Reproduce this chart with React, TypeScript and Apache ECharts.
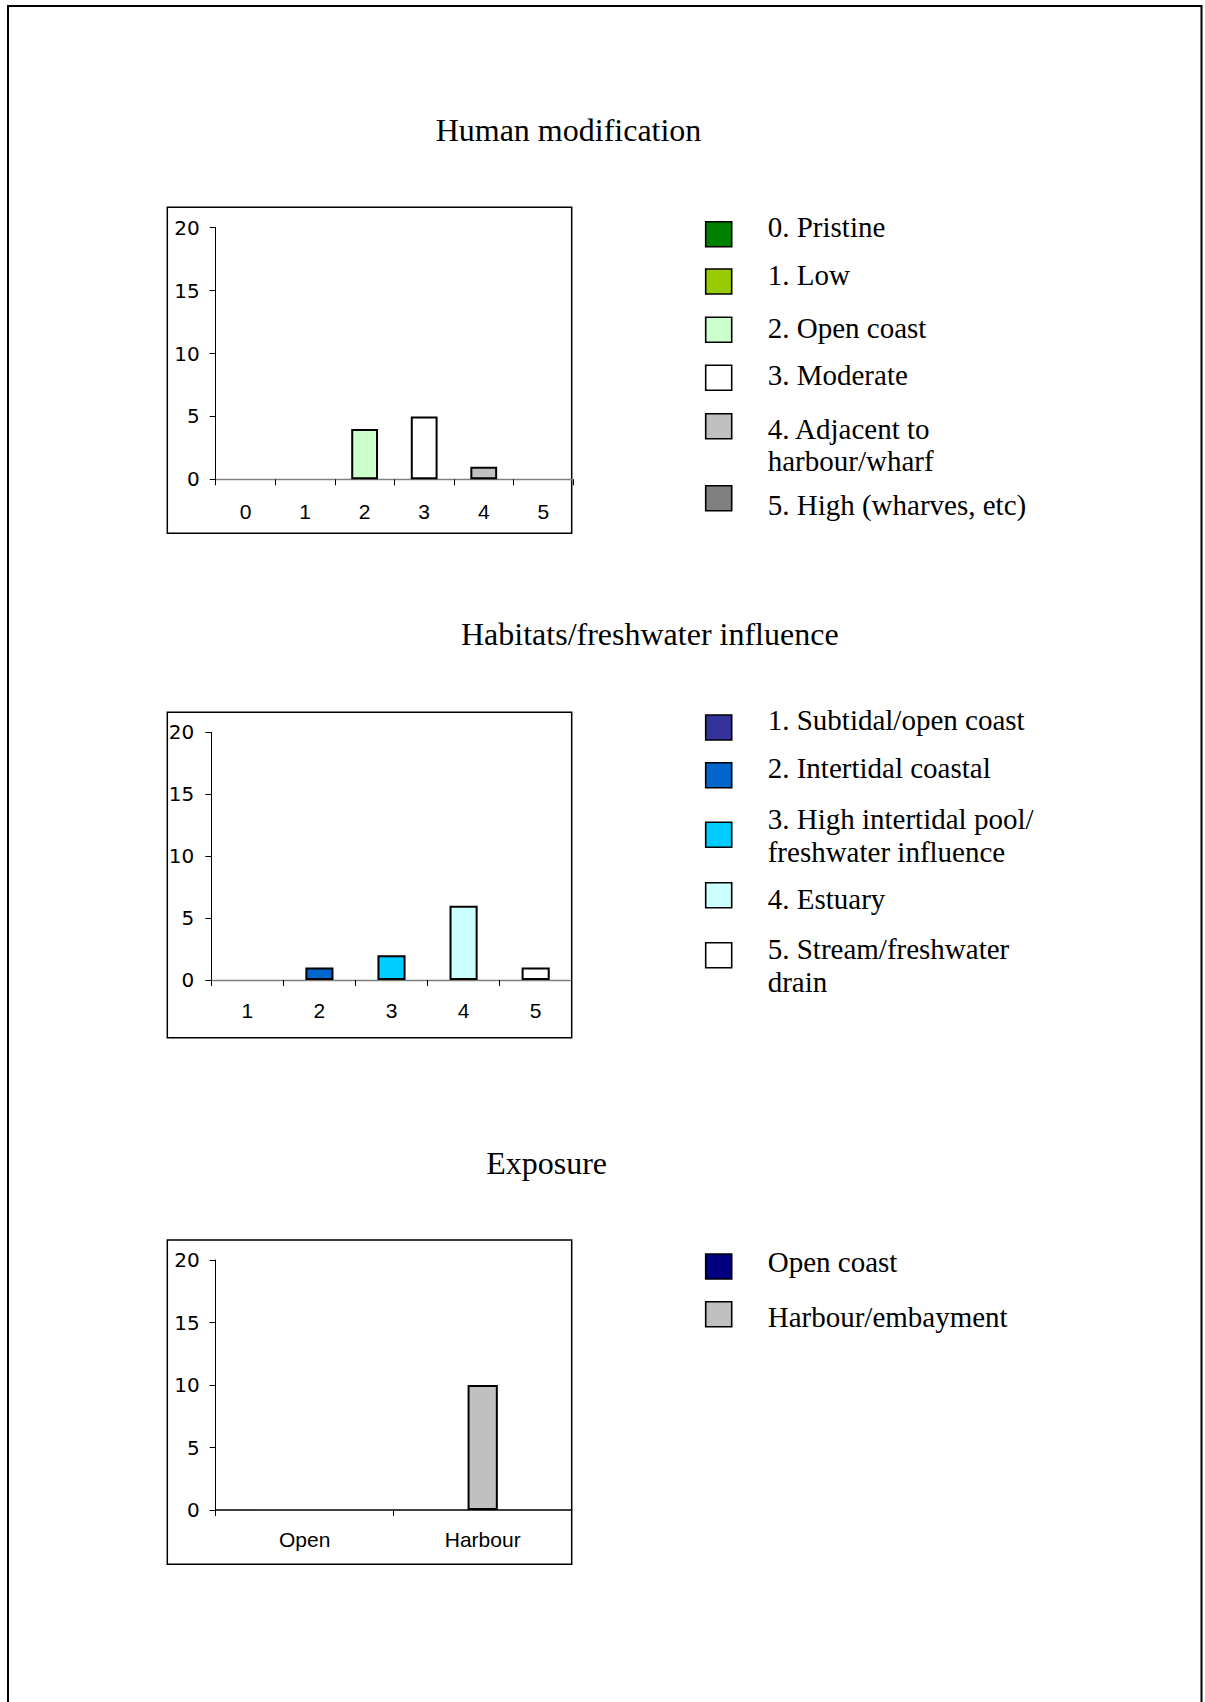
import React, { useEffect, useRef } from "react";
import * as echarts from "echarts";

// ---------- data ----------
const humanTitle = "Human modification";
const humanCategories = ["0", "1", "2", "3", "4", "5"];
const humanValues = [0, 0, 4, 5, 1, 0];
const humanLegend = [
  "0. Pristine",
  "1. Low",
  "2. Open coast",
  "3. Moderate",
  "4. Adjacent to\nharbour/wharf",
  "5. High (wharves, etc)",
];
const humanColors = ["#008000", "#99CC00", "#CCFFCC", "#FFFFFF", "#C0C0C0", "#808080"];

const habitatTitle = "Habitats/freshwater influence";
const habitatCategories = ["1", "2", "3", "4", "5"];
const habitatValues = [0, 1, 2, 6, 1];
const habitatLegend = [
  "1. Subtidal/open coast",
  "2. Intertidal coastal",
  "3. High intertidal pool/\nfreshwater influence",
  "4. Estuary",
  "5. Stream/freshwater\ndrain",
];
const habitatColors = ["#333399", "#0066CC", "#00CCFF", "#CCFFFF", "#FFFFFF"];

const exposureTitle = "Exposure";
const exposureCategories = ["Open", "Harbour"];
const exposureValues = [0, 10];
const exposureLegend = ["Open coast", "Harbour/embayment"];
const exposureColors = ["#000080", "#C0C0C0"];

const yMin = 0;
const yMax = 20;
const yInterval = 5;

// ---------- layout ----------
const SERIF = "'Liberation Serif', 'Times New Roman', serif";
const SANS = "'Liberation Sans', Arial, sans-serif";
const YSANS = "'DejaVu Sans', sans-serif";
const TITLE_SIZE = 32;
const LEGEND_SIZE = 29;
const CENTRAL = 0.3375; // central baseline offset of Liberation Serif (em)

const panels = [
  {
    title: humanTitle,
    categories: humanCategories,
    values: humanValues,
    legend: humanLegend,
    colors: humanColors,
    titleX: 568.5,
    titleBaseline: 140.4,
    box: { x: 167.3, y: 207.3, w: 404.4, h: 326 },
    grid: { left: 215.7, top: 227.7, width: 357.4, height: 251.6 },
    barWidth: "45%",
    xLabelMargin: 22,
    yLabelMargin: 16,
    xAxisColor: "#808080",
    xAxisWidth: 1.3,
    swatchTops: [221.7, 269, 317.3, 365.3, 413.7, 485.7],
    baselines: [236.7, 284.3, 337.3, 385, 438.3, 515],
    lineGap: 32.4,
  },
  {
    title: habitatTitle,
    categories: habitatCategories,
    values: habitatValues,
    legend: habitatLegend,
    colors: habitatColors,
    titleX: 649.8,
    titleBaseline: 644.6,
    box: { x: 167.3, y: 712.3, w: 404.4, h: 325.4 },
    grid: { left: 211.3, top: 732.3, width: 360.4, height: 247.7 },
    barWidth: "39%",
    xLabelMargin: 20,
    yLabelMargin: 17,
    xAxisColor: "#808080",
    xAxisWidth: 1.3,
    swatchTops: [715, 762.7, 822.3, 882.7, 942.7],
    baselines: [729.3, 777.3, 828.3, 908.3, 958.3],
    lineGap: 33,
  },
  {
    title: exposureTitle,
    categories: exposureCategories,
    values: exposureValues,
    legend: exposureLegend,
    colors: exposureColors,
    titleX: 546.6,
    titleBaseline: 1173.3,
    box: { x: 167.3, y: 1240, w: 404.4, h: 324.3 },
    grid: { left: 215.7, top: 1260, width: 356, height: 250 },
    barWidth: "17%",
    xLabelMargin: 18.5,
    yLabelMargin: 16,
    xAxisColor: "#000000",
    xAxisWidth: 1.5,
    swatchTops: [1254, 1301.7],
    baselines: [1272, 1326.7],
    lineGap: 33,
  },
];

const SWATCH_X = 705.7;
const SWATCH_W = 26;
const SWATCH_H = 25;
const LEGEND_TEXT_X = 767.7;

function buildOption() {
  const grids: any[] = [];
  const xAxes: any[] = [];
  const yAxes: any[] = [];
  const series: any[] = [];
  const graphics: any[] = [];

  // page border
  graphics.push({
    type: "rect",
    shape: { x: 8, y: 6, width: 1193.5, height: 1800 },
    style: { fill: "none", stroke: "#000", lineWidth: 2 },
    silent: true,
  });

  panels.forEach((p, i) => {
    grids.push({ ...p.grid, containLabel: false });
    xAxes.push({
      type: "category",
      gridIndex: i,
      data: p.categories,
      boundaryGap: true,
      axisLine: { show: true, onZero: false, lineStyle: { color: p.xAxisColor, width: p.xAxisWidth } },
      axisTick: { show: true, alignWithLabel: false, length: 6, inside: false, lineStyle: { color: "#000", width: 1 } },
      axisLabel: { margin: p.xLabelMargin, fontFamily: SANS, fontSize: 21, color: "#000", interval: 0 },
      splitLine: { show: false },
    });
    yAxes.push({
      type: "value",
      gridIndex: i,
      min: yMin,
      max: yMax,
      interval: yInterval,
      axisLine: { show: true, lineStyle: { color: "#000", width: 1 } },
      axisTick: { show: true, length: 6, inside: false, lineStyle: { color: "#000", width: 1 } },
      axisLabel: { margin: p.yLabelMargin, fontFamily: YSANS, fontSize: 20, color: "#000" },
      splitLine: { show: false },
    });
    series.push({
      type: "bar",
      xAxisIndex: i,
      yAxisIndex: i,
      barWidth: p.barWidth,
      silent: true,
      data: p.values.map((v, k) => ({
        value: v,
        itemStyle: { color: p.colors[k], borderColor: "#000", borderWidth: v === 0 ? 0 : 2 },
      })),
    });

    // title
    graphics.push({
      type: "text",
      x: p.titleX,
      y: p.titleBaseline - CENTRAL * TITLE_SIZE,
      silent: true,
      style: {
        text: p.title,
        fontFamily: SERIF,
        fontSize: TITLE_SIZE,
        fill: "#000",
        align: "center",
        verticalAlign: "middle",
      },
    });
    // chart frame
    graphics.push({
      type: "rect",
      shape: { x: p.box.x, y: p.box.y, width: p.box.w, height: p.box.h },
      style: { fill: "none", stroke: "#000", lineWidth: 1.5 },
      silent: true,
    });
    // legend
    p.legend.forEach((label, k) => {
      graphics.push({
        type: "rect",
        shape: { x: SWATCH_X, y: p.swatchTops[k], width: SWATCH_W, height: SWATCH_H },
        style: { fill: p.colors[k], stroke: "#000", lineWidth: 1.6 },
        silent: true,
      });
      label.split("\n").forEach((line, li) => {
        graphics.push({
          type: "text",
          x: LEGEND_TEXT_X,
          y: p.baselines[k] + li * p.lineGap - CENTRAL * LEGEND_SIZE,
          silent: true,
          style: {
            text: line,
            fontFamily: SERIF,
            fontSize: LEGEND_SIZE,
            fill: "#000",
            align: "left",
            verticalAlign: "middle",
          },
        });
      });
    });
  });

  return {
    animation: false,
    backgroundColor: "#ffffff",
    grid: grids,
    xAxis: xAxes,
    yAxis: yAxes,
    series,
    graphic: graphics,
  };
}

export default function App() {
  const ref = useRef<HTMLDivElement | null>(null);
  useEffect(() => {
    if (!ref.current) return;
    const chart = echarts.init(ref.current, undefined, { renderer: "svg" });
    chart.setOption(buildOption() as any);
    return () => chart.dispose();
  }, []);
  return (
    <div
      ref={ref}
      style={{ position: "absolute", left: 0, top: 0, width: 1205, height: 1702, background: "#fff" }}
    />
  );
}
